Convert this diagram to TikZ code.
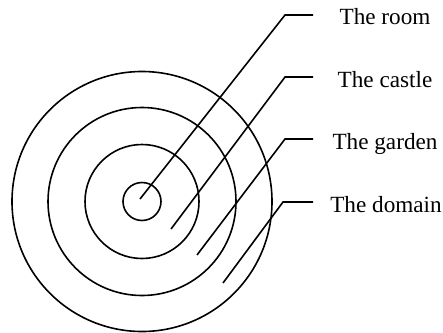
\documentclass[tikz,border=0pt]{standalone}
\usepackage{fontspec}
\setmainfont{Liberation Serif}
\begin{document}
\begin{tikzpicture}[x=0.5pt,y=-0.5pt,
  ring/.style={circle,draw,line width=0.8pt,inner sep=0pt},
  leader/.style={line width=0.8pt},
  lbl/.style={font=\fontsize{11.6pt}{13pt}\selectfont,anchor=base,inner sep=0pt}]
\useasboundingbox (0,0) rectangle (443,332);
\node[ring,minimum size=19pt] (r1) at (142,201.5) {};
\node[ring,minimum size=57pt] (r2) at (142,201.5) {};
\node[ring,minimum size=94pt] (r3) at (142,201.5) {};
\node[ring,minimum size=130pt] (r4) at (142,201.5) {};
\coordinate (s1) at (140,199);
\coordinate (s2) at (171,229);
\coordinate (s3) at (197,255);
\coordinate (s4) at (223,283);
\coordinate (k1) at (285,15);
\coordinate (k2) at (285,77);
\coordinate (k3) at (285,139);
\coordinate (k4) at (283,202);
\coordinate (e1) at (313,15);
\coordinate (e2) at (313,77);
\coordinate (e3) at (313,139);
\coordinate (e4) at (313,202);
\node[lbl] (t1) at (385,25) {The room};
\node[lbl] (t2) at (385,87) {The castle};
\node[lbl] (t3) at (385,149) {The garden};
\node[lbl] (t4) at (386,212) {The domain};
\draw[leader] (s1) -- (k1) -- (e1);
\draw[leader] (s2) -- (k2) -- (e2);
\draw[leader] (s3) -- (k3) -- (e3);
\draw[leader] (s4) -- (k4) -- (e4);
\end{tikzpicture}
\end{document}
